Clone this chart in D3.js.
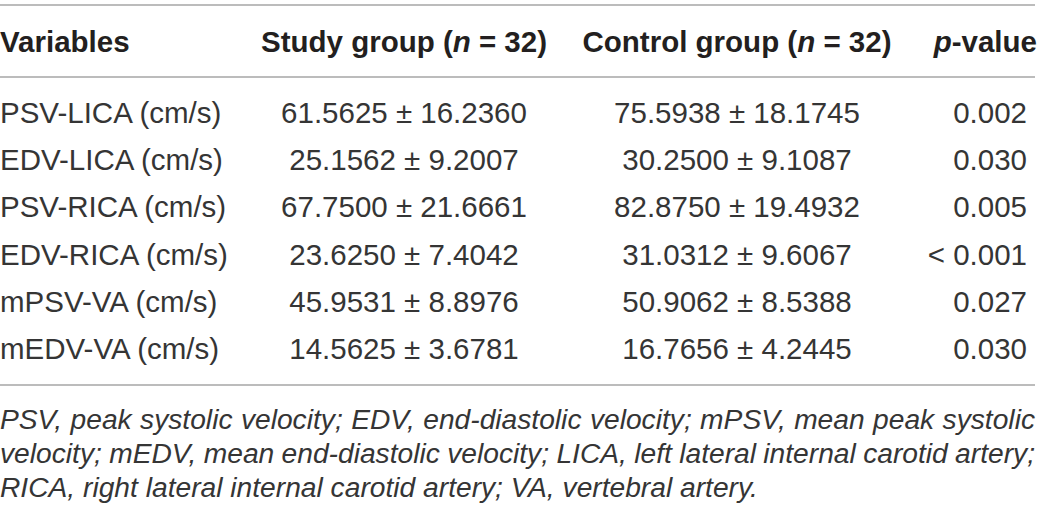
<!DOCTYPE html>
<html>
<head>
<meta charset="utf-8">
<script src="https://cdn.jsdelivr.net/npm/d3@7/dist/d3.min.js"></script>
<style>
    body { margin: 0; background: #fff; }
    svg text { font-family: "Liberation Sans", Arial, Helvetica, sans-serif; fill: #353535; }
</style>
</head>
<body>
<svg id="table"></svg>
<script>
// Table contents
const variables = [
    "PSV-LICA (cm/s)",
    "EDV-LICA (cm/s)",
    "PSV-RICA (cm/s)",
    "EDV-RICA (cm/s)",
    "mPSV-VA (cm/s)",
    "mEDV-VA (cm/s)"
];
const studyValues = [
    "61.5625 ± 16.2360",
    "25.1562 ± 9.2007",
    "67.7500 ± 21.6661",
    "23.6250 ± 7.4042",
    "45.9531 ± 8.8976",
    "14.5625 ± 3.6781"
];
const controlValues = [
    "75.5938 ± 18.1745",
    "30.2500 ± 9.1087",
    "82.8750 ± 19.4932",
    "31.0312 ± 9.6067",
    "50.9062 ± 8.5388",
    "16.7656 ± 4.2445"
];
const pValues = ["0.002", "0.030", "0.005", "< 0.001", "0.027", "0.030"];

// header pieces: [text, italic]
const headerVariables = [["Variables", false]];
const headerStudy = [["Study group (", false], ["n", true], [" = 32)", false]];
const headerControl = [["Control group (", false], ["n", true], [" = 32)", false]];
const headerP = [["p", true], ["-value", false]];

const footnoteLines = [
    "PSV, peak systolic velocity; EDV, end-diastolic velocity; mPSV, mean peak systolic",
    "velocity; mEDV, mean end-diastolic velocity; LICA, left lateral internal carotid artery;",
    "RICA, right lateral internal carotid artery; VA, vertebral artery."
];

const width = 1043;
const height = 508;
const tableRight = 1035;

const svg = d3.select('#table')
    .attr('width', width)
    .attr('height', height);

// columns: anchor x and alignment
const columns = [
    { header: headerVariables, values: variables, x: 0, anchor: 'start' },
    { header: headerStudy, values: studyValues, x: 404, anchor: 'middle' },
    { header: headerControl, values: controlValues, x: 737, anchor: 'middle' },
    { header: headerP, values: pValues, x: 1027, anchor: 'end', headerX: 1037 }
];

// row positions (baselines)
const y = d3.scalePoint()
    .domain(d3.range(variables.length))
    .range([123, 123 + 47.2 * (variables.length - 1)]);

// rules
const rules = [5, 77, 385];
svg.selectAll('.rule')
    .data(rules)
    .enter()
    .append('line')
    .attr('class', 'rule')
    .attr('x1', 0)
    .attr('x2', tableRight)
    .attr('y1', d => d)
    .attr('y2', d => d)
    .attr('stroke', '#a6a6a6')
    .attr('stroke-width', 1.5);

// header
const head = svg.selectAll('.head')
    .data(columns)
    .enter()
    .append('text')
    .attr('class', 'head')
    .attr('x', d => d.headerX || d.x)
    .attr('y', 52)
    .attr('text-anchor', d => d.anchor)
    .style('font-size', '29.5px')
    .style('font-weight', 'bold')
    .style('fill', '#231f20');

head.selectAll('tspan')
    .data(d => d.header)
    .enter()
    .append('tspan')
    .style('font-style', d => d[1] ? 'italic' : 'normal')
    .text(d => d[0]);

// body cells
columns.forEach(col => {
    svg.selectAll(null)
        .data(col.values)
        .enter()
        .append('text')
        .attr('x', col.x)
        .attr('y', (d, i) => y(i))
        .attr('text-anchor', col.anchor)
        .style('font-size', '29.5px')
        .text(d => d);
});

// footnote, first lines justified to the table width
const footSize = 28.2;
const footY = [429, 463, 497];
footnoteLines.forEach((line, li) => {
    const words = line.split(' ');
    const g = svg.append('g');
    const texts = g.selectAll('text')
        .data(words)
        .enter()
        .append('text')
        .attr('y', footY[li])
        .style('font-size', footSize + 'px')
        .style('font-style', 'italic')
        .text(d => d);
    const widths = [];
    texts.each(function() { widths.push(this.getComputedTextLength()); });
    const total = d3.sum(widths);
    const justify = li < footnoteLines.length - 1;
    const gap = justify ? (tableRight - total) / (words.length - 1) : footSize * 0.278;
    let x = 0;
    texts.attr('x', (d, i) => {
        const pos = x;
        x += widths[i] + gap;
        return pos;
    });
});
</script>
</body>
</html>
